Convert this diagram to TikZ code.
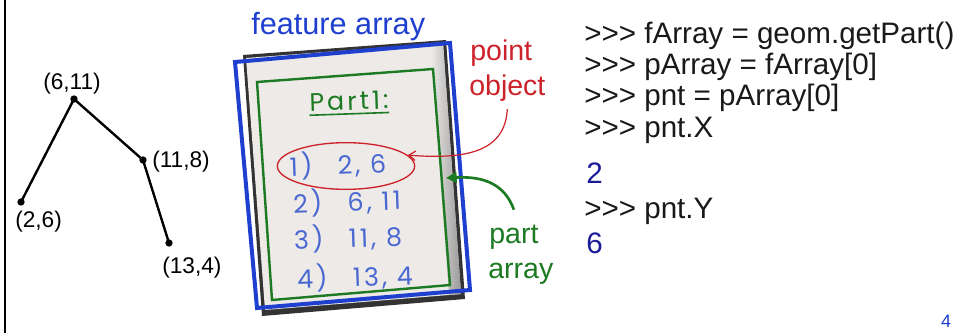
\documentclass[tikz,border=0pt]{standalone}
\usepackage{fontspec}
\setmainfont{Liberation Sans}
\newfontfamily\handfont{Poppins}[LetterSpace=12]
\usetikzlibrary{arrows.meta,positioning,shapes}
\definecolor{fblue}{HTML}{1F3FCF}
\definecolor{hblue}{HTML}{4A68D2}
\definecolor{pgreen}{HTML}{1B7A22}
\definecolor{pred}{HTML}{CC2229}
\definecolor{navy}{HTML}{1A1A99}
\definecolor{paper}{HTML}{EDEAE8}
\newcommand\pp{>{}>{}>}

\begin{document}
\begin{tikzpicture}[x=0.75pt,y=-0.75pt,inner sep=0pt]
  \useasboundingbox(0,0)rectangle(953,333);
  \draw[line width=1.5pt](5,0)--(5,333);
  % polyline with its vertices
  \tikzstyle{v}=[circle,fill=black,minimum size=5.5pt]
  \tikzstyle{l}=[anchor=base west,font=\fontsize{17}{20}\selectfont]
  \node[v](p1)at(21,202){};
  \node[v](p2)at(74,99){};
  \node[v](p3)at(143,160){};
  \node[v](p4)at(169,243){};
  \foreach\o/\d in{p1/p2,p2/p3,p3/p4}{\draw[line width=1.8pt](\o.center)--(\d.center);}
  \node[l](l1)at(15,227){(2,6)};
  \node[l](l2)at(43,89){(6,11)};
  \node[l](l3)at(152,167){(11,8)};
  \node[l](l4)at(162,273){(13,4)};
  % the sheet of paper
  \fill[black!80](243,55)--(446,40)--(465,299)--(262,316)--cycle;
  \fill[paper](246,58)--(443,43)--(461,294)--(265,310)--cycle;
  \shade[left color=paper,right color=black!40](431,44)--(443,43)--(461,294)--(449,295)--cycle;
  \draw[fblue,line width=3pt](235,62)--(450,43)--(470,290)--(257,308)--cycle;
  \draw[pgreen,line width=1.8pt](257,82)--(433,69)--(450,285)--(272,300)--cycle;
  \tikzstyle{h}=[font=\handfont\fontsize{19}{22}\selectfont,text=hblue,rotate=2]
  \node[h,text=pgreen](t0)at(349,101){Part1:};
  \draw[pgreen,line width=1.2pt]([yshift=-2.5pt]t0.south west)--([yshift=-2.5pt]t0.south east);
  \foreach\i/\t/\x/\y in{1/{2, 6}/338/165,2/{6, 11}/347/202,3/{11, 8}/348/238,4/{13, 4}/355/277}{
    \node[h](t\i)at(\x,\y){\i)\quad\t};}
  \node[ellipse,draw=pred,line width=1pt,minimum width=103pt,minimum height=35pt](pobj)at(346,166){};
  % labels and arrows
  \node[anchor=base west,text=fblue,font=\fontsize{23}{26}\selectfont](fa)at(251,34){feature array};
  \tikzstyle{a}=[anchor=base west,font=\fontsize{21.4}{24}\selectfont]
  \node[a,text=pred](lpoint)at(470,60){point};
  \node[a,text=pred](lobject)at(469,95){object};
  \node[a,text=pgreen](lpart)at(489,243){part};
  \node[a,text=pgreen](larray)at(488,278){array};
  \coordinate(gtip)at(446,178);
  \draw[pred,line width=0.9pt,-{Straight Barb[length=5pt,width=7pt]}]([yshift=-6pt]lobject.south) .. controls (505,150) and (470,160) .. (pobj.10);
  \draw[pgreen,line width=2pt,-{Triangle[length=8pt,width=8pt]}]([yshift=11pt]lpart.north) .. controls (505,185) and (485,176) .. (gtip);
  % python session
  \tikzstyle{c}=[anchor=base west,font=\fontsize{22.2}{24}\selectfont,text=black!90]
  \foreach\n/\y/\t in{1/43/{\pp{} fArray = geom.getPart()},2/74/{\pp{} pArray = fArray[0]},3/105/{\pp{} pnt = pArray[0]},4/137/{\pp{} pnt.X},6/218/{\pp{} pnt.Y}}{
    \node[c](c\n)at(584,\y){\t};}
  \node[c,text=navy](c5)at(586,183){2};
  \node[c,text=navy](c7)at(586,253){6};
  \node[anchor=base,text=fblue,font=\fontsize{13.5}{16}\selectfont](pg)at(946,327){4};
\end{tikzpicture}
\end{document}
